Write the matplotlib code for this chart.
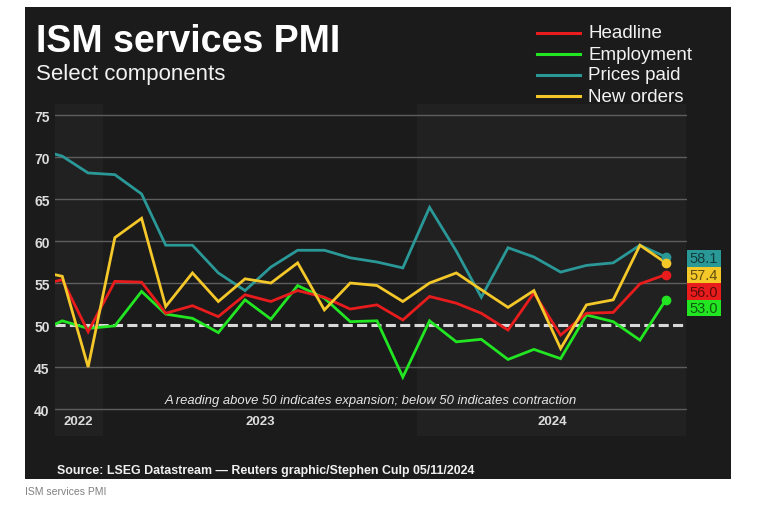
import pandas as pd
import matplotlib.pyplot as plt
import matplotlib.dates as mdates
import matplotlib.transforms as mtransforms
from matplotlib.lines import Line2D
from matplotlib.patches import Rectangle

plt.rcParams['font.family'] = ['Liberation Sans', 'DejaVu Sans']

# monthly readings, Oct 2022 - Oct 2024 (plotted mid-month)
months = pd.date_range('2022-10-01', '2024-10-01', freq='MS') + pd.Timedelta(days=14)

headline = [54.6, 55.4, 49.2, 55.2, 55.1, 51.4, 52.3, 51.0, 53.6, 52.8, 54.1, 53.3, 51.9,
            52.4, 50.6, 53.4, 52.6, 51.4, 49.4, 53.8, 48.8, 51.4, 51.5, 54.9, 56.0]
employment = [49.0, 50.5, 49.6, 49.9, 54.0, 51.3, 50.8, 49.1, 53.0, 50.7, 54.7, 53.2, 50.4,
              50.5, 43.8, 50.5, 48.0, 48.3, 45.9, 47.1, 46.0, 51.2, 50.4, 48.2, 53.0]
prices_paid = [71.0, 70.1, 68.1, 67.9, 65.6, 59.5, 59.5, 56.2, 54.1, 56.9, 58.9, 58.9, 58.0,
               57.5, 56.8, 64.0, 58.8, 53.3, 59.2, 58.1, 56.3, 57.1, 57.4, 59.5, 58.1]
new_orders = [56.5, 55.8, 45.0, 60.4, 62.7, 52.2, 56.2, 52.8, 55.5, 55.0, 57.4, 51.8, 55.0,
              54.7, 52.8, 55.0, 56.2, 54.2, 52.1, 54.1, 47.2, 52.4, 53.0, 59.5, 57.4]

labels = ["Headline", "Employment", "Prices paid", "New orders"]
colors = {"Headline": "#e81c1c", "Employment": "#22e622",
          "Prices paid": "#2b9898", "New orders": "#f5c82a"}
values = {"Headline": headline, "Employment": employment,
          "Prices paid": prices_paid, "New orders": new_orders}

W, H = 757, 510
BG = '#1b1b1b'
SHADE = '#212121'

fig = plt.figure(figsize=(W / 100, H / 100), dpi=100)
fig.patch.set_facecolor('white')
fig.patches.append(Rectangle((25 / W, 1 - 480 / H), 706 / W, 472 / H,
                             transform=fig.transFigure, facecolor=BG, edgecolor='none', zorder=-10))

ax = fig.add_axes([54.5 / W, 1 - 437 / H, 632 / W, 332 / H])
ax.set_zorder(1)
ax.set_facecolor(BG)
x0, x1 = pd.Timestamp('2022-11-06'), pd.Timestamp('2024-11-08')
ax.set_xlim(x0, x1)
ax.set_ylim(36.79, 76.31)
for s in ax.spines.values():
    s.set_visible(False)

# alternate year shading
y2023, y2024 = pd.Timestamp('2023-01-01'), pd.Timestamp('2024-01-01')
ax.axvspan(x0, y2023, color=SHADE, lw=0, zorder=0)
ax.axvspan(y2024, x1, color=SHADE, lw=0, zorder=0)

for v in [40, 45, 55, 60, 65, 70, 75]:
    ax.axhline(v, color='#5e5e5e', lw=1, zorder=1)
ax.axhline(50, color='#d8d8d8', lw=2.2, dashes=(3.3, 1.4), zorder=2)

for name in ["Prices paid", "Employment", "Headline", "New orders"]:
    ax.plot(months, values[name], color=colors[name], lw=2, zorder=3, solid_joinstyle='miter')
    ax.plot(months[-1], values[name][-1], 'o', color=colors[name], ms=6, zorder=4)

ax.set_yticks(range(40, 80, 5))
ax.set_yticklabels([str(v) for v in range(40, 80, 5)], fontsize=10, fontweight='bold', color='#dcdcdc')
ax.tick_params(axis='y', length=0, pad=3.5)
ax.set_xticks([])

# year labels centred in each visible year band
for yr, a, b in [(2022, x0, y2023), (2023, y2023, y2024), (2024, y2024, x1)]:
    mid = mdates.num2date((mdates.date2num(a) + mdates.date2num(b)) / 2)
    ax.text(mid, 38.57, str(yr), ha='center', va='center', fontsize=9.5,
            fontweight='bold', color='#dcdcdc')

ax.text(0.5, 41.1, "A reading above 50 indicates expansion; below 50 indicates contraction",
        transform=mtransforms.blended_transform_factory(ax.transAxes, ax.transData),
        ha='center', va='center', fontsize=9.4, style='italic', color='#e6e6e6')

# end value boxes
trans = mtransforms.blended_transform_factory(ax.transAxes, ax.transData)
box_h = 1.97
top = 57.92
for i, name in enumerate(["Prices paid", "New orders", "Headline", "Employment"]):
    yc = top - i * box_h
    ax.add_patch(Rectangle((1.001, yc - box_h / 2), 0.0535, box_h, transform=trans,
                           facecolor=colors[name], edgecolor='none', clip_on=False, zorder=5))
    ax.text(1.001 + 0.0535 / 2, yc, f"{values[name][-1]:.1f}", transform=trans,
            ha='center', va='center', fontsize=10.5, color='black', alpha=0.6, zorder=6)

# titles
fig.text(36 / W, 1 - 51.7 / H, "ISM services PMI", fontsize=27, fontweight='bold',
         color='white', va='baseline')
fig.text(36 / W, 1 - 80 / H, "Select components", fontsize=16, color='#f2f2f2', va='baseline')

# legend
for i, name in enumerate(labels):
    yy = 1 - (34 + i * 21) / H
    fig.add_artist(Line2D([537 / W, 580 / W], [yy, yy], color=colors[name], lw=2.2))
    fig.text(588 / W, yy, name, fontsize=13.5, color='#f2f2f2', va='center')

fig.text(57 / W, 1 - 474 / H, "Source: LSEG Datastream \u2014 Reuters graphic/Stephen Culp 05/11/2024",
         fontsize=8.9, fontweight='bold', color='#f0f0f0', va='baseline')
fig.text(25 / W, 1 - 492 / H, "ISM services PMI", fontsize=7.5, color='#808080', va='center')

fig.savefig('out.png', dpi=100, facecolor='white')
